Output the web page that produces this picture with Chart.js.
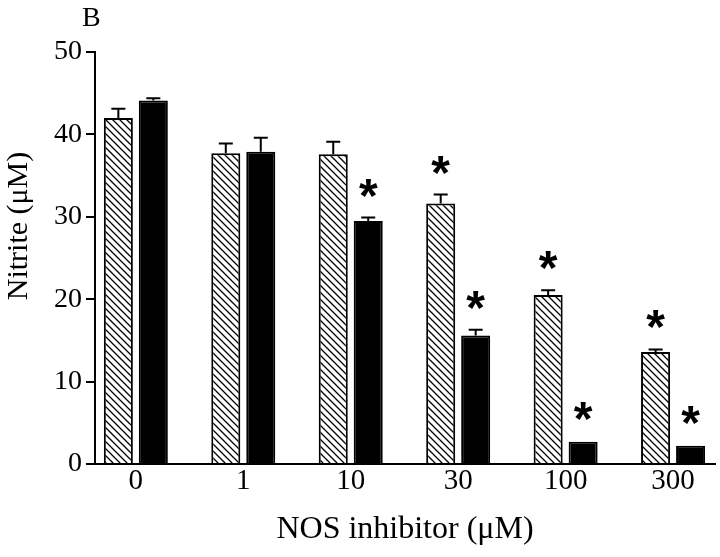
<!DOCTYPE html>
<html lang="en">
<head>
    <meta charset="UTF-8">
    <title>Nitrite vs NOS inhibitor</title>
    <script src="https://cdn.jsdelivr.net/npm/chart.js"></script>
    <style>
        body { margin: 0; background: #fff; }
    </style>
</head>
<body>
    <canvas id="nitriteChart" width="720" height="557"></canvas>

    <script>
        // Data
        const categories = ['0', '1', '10', '30', '100', '300'];
        const hatchedValues = [42.0, 37.7, 37.6, 31.6, 20.5, 13.6];
        const hatchedErrors = [1.1, 1.2, 1.5, 1.1, 0.6, 0.3];
        const hatchedStars = [false, false, false, true, true, true];
        const blackValues = [44.1, 37.9, 29.5, 15.6, 2.7, 2.2];
        const blackErrors = [0.3, 1.7, 0.4, 0.7, 0.1, 0.1];
        const blackStars = [false, false, true, true, true, true];
        const yTicks = [0, 10, 20, 30, 40, 50];

        const serif = '"Liberation Serif", "Times New Roman", serif';

        // diagonal hatch fill
        function makeHatch() {
            const c = document.createElement('canvas');
            c.width = 7;
            c.height = 7;
            const g = c.getContext('2d');
            g.fillStyle = '#fff';
            g.fillRect(0, 0, 7, 7);
            g.strokeStyle = '#000';
            g.lineWidth = 1.3;
            g.beginPath();
            g.moveTo(-1, -1); g.lineTo(8, 8);
            g.moveTo(-1, 6); g.lineTo(1, 8);
            g.moveTo(6, -1); g.lineTo(8, 1);
            g.stroke();
            return g.createPattern(c, 'repeat');
        }

        const errors = [hatchedErrors, blackErrors];
        const stars = [hatchedStars, blackStars];

        // error bars (upper only) and significance stars
        const errorBarPlugin = {
            id: 'errorBars',
            afterDatasetsDraw(chart) {
                const ctx = chart.ctx;
                const y = chart.scales.y;
                ctx.save();
                chart.data.datasets.forEach((ds, di) => {
                    const meta = chart.getDatasetMeta(di);
                    meta.data.forEach((bar, i) => {
                        const v = ds.data[i].y;
                        const top = y.getPixelForValue(v + errors[di][i]);
                        ctx.strokeStyle = '#000';
                        ctx.lineWidth = 2;
                        if (errors[di][i] > 0.2) {
                            ctx.beginPath();
                            ctx.moveTo(bar.x, bar.y);
                            ctx.lineTo(bar.x, top);
                            ctx.moveTo(bar.x - 7, top);
                            ctx.lineTo(bar.x + 7, top);
                            ctx.stroke();
                        }
                        if (stars[di][i]) {
                            ctx.font = 'bold 48px "Liberation Sans", Arial, sans-serif';
                            ctx.fillStyle = '#000';
                            ctx.textAlign = 'center';
                            ctx.textBaseline = 'alphabetic';
                            const m = ctx.measureText('*');
                            const mid = (m.actualBoundingBoxAscent - m.actualBoundingBoxDescent) / 2;
                            ctx.fillText('*', bar.x, top - 30 + mid);
                        }
                    });
                });
                ctx.restore();
            }
        };

        // panel letter and rotated y title
        const labelPlugin = {
            id: 'labels',
            afterDraw(chart) {
                const ctx = chart.ctx;
                ctx.save();
                ctx.fillStyle = '#000';
                ctx.font = '28px ' + serif;
                ctx.textAlign = 'left';
                ctx.textBaseline = 'alphabetic';
                ctx.fillText('B', 82, 26);
                ctx.translate(19, 226);
                ctx.rotate(-Math.PI / 2);
                ctx.font = '30px ' + serif;
                ctx.textAlign = 'center';
                ctx.textBaseline = 'middle';
                ctx.fillText('Nitrite (μM)', 0, 0);
                ctx.restore();
            }
        };

        new Chart(document.getElementById('nitriteChart'), {
            type: 'bar',
            data: {
                datasets: [{
                    data: hatchedValues.map((v, i) => ({ x: i, y: v })),
                    backgroundColor: makeHatch(),
                    borderColor: '#000',
                    borderWidth: 2
                }, {
                    data: blackValues.map((v, i) => ({ x: i, y: v })),
                    backgroundColor: '#000',
                    borderColor: '#000',
                    borderWidth: 2
                }]
            },
            options: {
                responsive: false,
                animation: false,
                devicePixelRatio: 1,
                categoryPercentage: 0.651,
                barPercentage: 0.83,
                layout: { padding: { top: 52, right: 5, bottom: 0, left: 0 } },
                plugins: {
                    legend: { display: false },
                    tooltip: { enabled: false }
                },
                scales: {
                    x: {
                        type: 'linear',
                        bounds: 'data',
                        offset: false,
                        min: -0.38,
                        max: 5.39,
                        afterBuildTicks: s => { s.ticks = categories.map((c, i) => ({ value: i })); },
                        grid: { display: false, drawTicks: false, offset: false },
                        border: { display: true, color: '#000', width: 2 },
                        ticks: {
                            autoSkip: false,
                            maxRotation: 0,
                            padding: 0,
                            color: '#000',
                            font: { family: serif, size: 29 },
                            callback: (v, i) => categories[i]
                        },
                        title: {
                            display: true,
                            text: 'NOS inhibitor (μM)',
                            color: '#000',
                            font: { family: serif, size: 32 },
                            padding: { top: 0, bottom: 8 }
                        },
                        afterFit: s => { s.height = 93; }
                    },
                    y: {
                        min: 0,
                        max: 50,
                        afterBuildTicks: s => { s.ticks = yTicks.map(v => ({ value: v })); },
                        grid: { drawOnChartArea: false, drawTicks: true, tickLength: 9, color: '#000', lineWidth: 2 },
                        border: { display: true, color: '#000', width: 2 },
                        ticks: {
                            padding: 4,
                            color: '#000',
                            font: { family: serif, size: 28 }
                        },
                        afterFit: s => { s.width = 95; }
                    }
                }
            },
            plugins: [errorBarPlugin, labelPlugin]
        });
    </script>
</body>
</html>
